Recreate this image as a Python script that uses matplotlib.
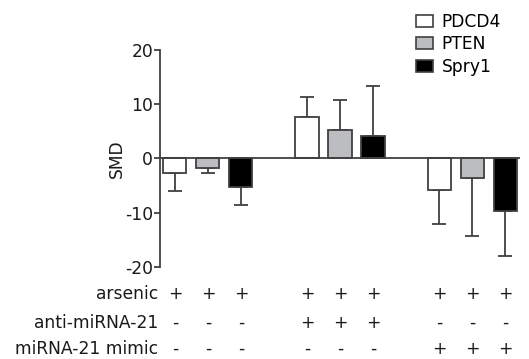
import matplotlib
matplotlib.use("Agg")
import matplotlib.pyplot as plt
import numpy as np
from matplotlib.patches import Patch

genes = ["PDCD4", "PTEN", "Spry1"]
gene_colors = ["#ffffff", "#bcbdc0", "#000000"]
# groups: arsenic only, arsenic+anti-miRNA-21, arsenic+miRNA-21 mimic
pdcd4 = [-2.65, 7.7, -5.85]
pdcd4_sd = [3.25, 3.7, 6.15]
pten = [-1.7, 5.3, -3.6]
pten_sd = [0.95, 5.5, 10.7]
spry1 = [-5.25, 4.1, -9.7]
spry1_sd = [3.25, 9.2, 8.2]

row_labels = ["arsenic", "anti-miRNA-21", "miRNA-21 mimic"]
arsenic = ["+", "+", "+"]
anti_mir = ["-", "+", "-"]
mimic = ["-", "-", "+"]

plt.rcParams['font.family'] = ['DejaVu Sans']
FS = 12.3
TXT = "#1a1a1a"
fig = plt.figure(figsize=(5.29, 3.59), dpi=100)
ax = fig.add_axes([0.3025, 0.2563, 0.6805, 0.6044])

series = [pdcd4, pten, spry1]
sds = [pdcd4_sd, pten_sd, spry1_sd]
edge = "#404040"
for gi in range(3):
    for si in range(3):
        x = gi * 4 + si
        v = series[si][gi]
        s = sds[si][gi]
        ax.bar(x, v, width=0.7, color=gene_colors[si], edgecolor=edge, linewidth=1.3, zorder=3)
        yerr = [[s if v < 0 else 0], [s if v >= 0 else 0]]
        ax.errorbar(x, v, yerr=yerr, fmt='none', ecolor=edge, elinewidth=1.3, capsize=5, capthick=1.3, zorder=2)

ax.axhline(0, color=edge, linewidth=1.3, zorder=4)
ax.set_xlim(-0.45, 10.45)
ax.set_ylim(-20, 20)
ax.set_yticks([-20, -10, 0, 10, 20])
ax.set_yticklabels(["-20", "-10", "0", "10", "20"])
for sp in ["top", "right", "bottom"]:
    ax.spines[sp].set_visible(False)
ax.spines["left"].set_color(edge)
ax.spines["left"].set_linewidth(1.3)
ax.tick_params(axis='y', length=4, width=1.3, color=edge, labelsize=FS, pad=1, labelcolor=TXT)
ax.set_xticks([])
ax.set_ylabel("SMD", fontsize=FS, color=TXT, labelpad=-1)

# condition table
rows = [arsenic, anti_mir, mimic]
row_y = [294, 323, 349]
for ri, (lab, vals) in enumerate(zip(row_labels, rows)):
    yf = 1 - row_y[ri] / 359
    fig.text(158 / 529, yf, lab, ha='right', va='center', fontsize=FS, color=TXT)
    for gi in range(3):
        for si in range(3):
            x = gi * 4 + si
            xd = ax.transData.transform((x, 0))[0]
            xf = fig.transFigure.inverted().transform((xd, 0))[0]
            fig.text(xf, yf, vals[gi], ha='center', va='center', fontsize=FS, color=TXT)

handles = [Patch(facecolor=c, edgecolor=edge, linewidth=1.2) for c in gene_colors]
fig.legend(handles, genes, loc='upper left', bbox_to_anchor=(404 / 529, 1 - 1 / 359),
           frameon=False, handlelength=1.0, handleheight=0.7,
           handletextpad=0.5, labelspacing=0.25, borderpad=0.2, prop={'size': FS})

fig.savefig("out.png", dpi=100)
